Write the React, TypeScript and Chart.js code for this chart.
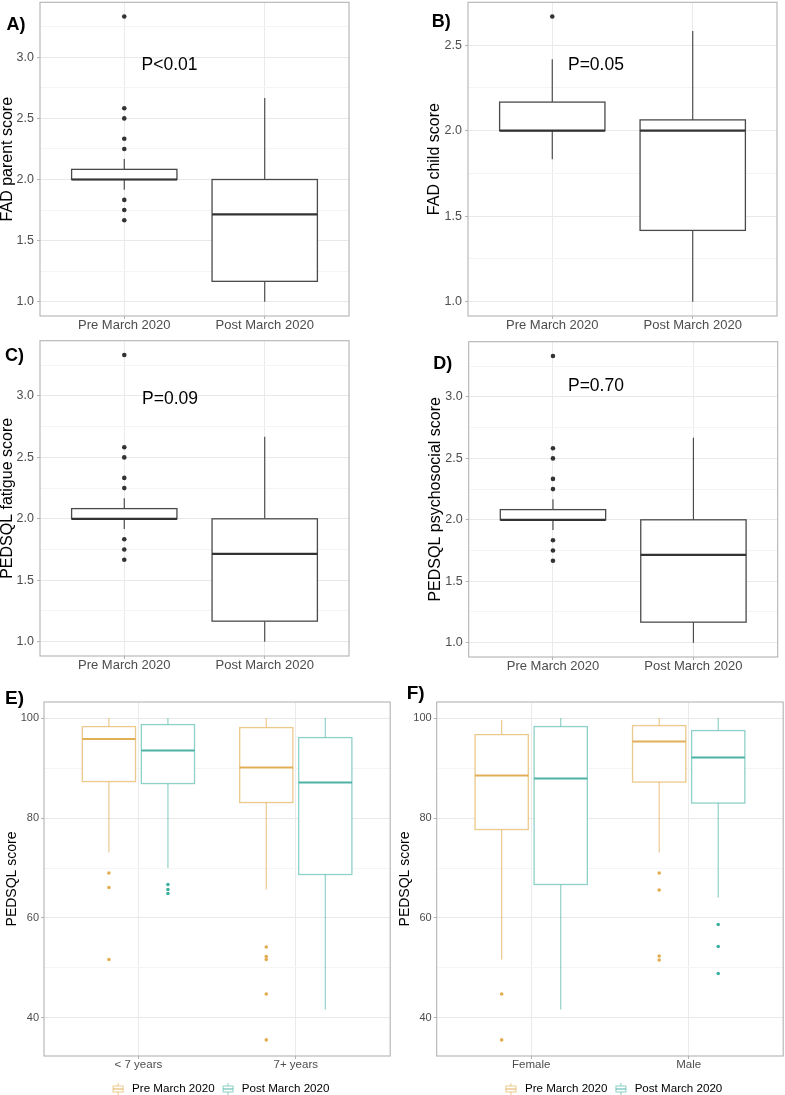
import React, { useEffect, useRef } from "react";
import { Chart, registerables } from "chart.js";
Chart.register(...registerables);

const FONT = "'Liberation Sans', Arial, Helvetica, sans-serif";

// ---------------- data ----------------
const periodCategories = ["Pre March 2020", "Post March 2020"];
const ageCategories = ["< 7 years", "7+ years"];
const sexCategories = ["Female", "Male"];
const seriesNames = ["Pre March 2020", "Post March 2020"];

// box stats: [lower whisker, Q1, median, Q3, upper whisker]
const fadParentPre = [1.917, 2.0, 2.0, 2.083, 2.167];
const fadParentPreOutliers = [3.333, 2.583, 2.5, 2.333, 2.25, 1.833, 1.75, 1.667];
const fadParentPost = [1.0, 1.167, 1.714, 2.0, 2.667];
const fadParentPostOutliers: number[] = [];

const fadChildPre = [1.833, 2.0, 2.0, 2.167, 2.417];
const fadChildPreOutliers = [2.667];
const fadChildPost = [1.0, 1.417, 2.0, 2.063, 2.583];
const fadChildPostOutliers: number[] = [];

const fatiguePre = [1.917, 2.0, 2.0, 2.083, 2.167];
const fatiguePreOutliers = [3.333, 2.583, 2.5, 2.333, 2.25, 1.833, 1.75, 1.667];
const fatiguePost = [1.0, 1.167, 1.714, 2.0, 2.667];
const fatiguePostOutliers: number[] = [];

const psychosocialPre = [1.917, 2.0, 2.0, 2.083, 2.167];
const psychosocialPreOutliers = [3.333, 2.583, 2.5, 2.333, 2.25, 1.833, 1.75, 1.667];
const psychosocialPost = [1.0, 1.167, 1.714, 2.0, 2.667];
const psychosocialPostOutliers: number[] = [];

const agePreStats = [
  [73.1, 87.3, 95.8, 98.3, 100],
  [65.7, 83.1, 90.1, 98.1, 100],
];
const agePreOutliers = [
  [69.0, 66.1, 51.7],
  [54.2, 52.3, 51.7, 44.8, 35.6],
];
const agePostStats = [
  [70.0, 86.9, 93.5, 98.7, 100],
  [41.7, 68.7, 87.1, 96.1, 100],
];
const agePostOutliers = [[66.7, 65.7, 64.9], []];

const sexPreStats = [
  [51.7, 77.7, 88.5, 96.7, 99.6],
  [73.1, 87.2, 95.3, 98.5, 100],
];
const sexPreOutliers = [
  [44.8, 35.6],
  [69.0, 65.6, 52.4, 51.6],
];
const sexPostStats = [
  [41.7, 66.7, 87.9, 98.3, 100],
  [64.1, 83.0, 92.1, 97.5, 100],
];
const sexPostOutliers = [[], [58.7, 54.3, 48.9]];

const fadMajorTicks = [1.0, 1.5, 2.0, 2.5, 3.0];
const fadMinorTicks = [1.25, 1.75, 2.25, 2.75, 3.25];
const pedsqlMajorTicks = [40, 60, 80, 100];
const pedsqlMinorTicks = [50, 70, 90];

// ---------------- styles ----------------
const GREY_BOX = "#4a4a4a";
const GREY_MED = "#333333";
const ORANGE_LINE = "rgba(225,168,69,0.62)";
const ORANGE_MED = "rgba(222,166,70,0.9)";
const ORANGE_PT = "#E2AD4E";
const TEAL_LINE = "rgba(60,175,160,0.58)";
const TEAL_MED = "rgba(55,170,155,0.9)";
const TEAL_PT = "#3DB0A1";

type Group = {
  pos: number;
  stats: number[];
  outliers: number[];
  line: string;
  median: string;
  point: string;
};

type Spec = {
  left: number;
  top: number;
  width: number;
  height: number;
  pad: { left: number; right: number; top: number; bottom: number };
  yWidth: number;
  xHeight: number;
  yTitle: string;
  yTitleSize: number;
  yTickSize: number;
  xTickSize: number;
  yTickPad: number;
  majors: number[];
  minors: number[];
  decimals: number;
  categories: string[];
  groups: Group[];
  halfWidth: number;
  boxLw: number;
  medLw: number;
  pointR: number;
  letter: string;
  letterPos: [number, number];
  letterSize: number;
  pText?: { text: string; x: number; y: number };
  legend?: boolean;
};

function periodGroups(pre: number[], preOut: number[], post: number[], postOut: number[]): Group[] {
  return [
    { pos: 1, stats: pre, outliers: preOut, line: GREY_BOX, median: GREY_MED, point: "#333" },
    { pos: 2, stats: post, outliers: postOut, line: GREY_BOX, median: GREY_MED, point: "#333" },
  ];
}

function dodgedGroups(preStats: number[][], preOut: number[][], postStats: number[][], postOut: number[][]): Group[] {
  const out: Group[] = [];
  for (let i = 0; i < preStats.length; i++) {
    out.push({ pos: i + 1 - 0.1875, stats: preStats[i], outliers: preOut[i], line: ORANGE_LINE, median: ORANGE_MED, point: ORANGE_PT });
    out.push({ pos: i + 1 + 0.1875, stats: postStats[i], outliers: postOut[i], line: TEAL_LINE, median: TEAL_MED, point: TEAL_PT });
  }
  return out;
}

const baseTop = {
  yTitleSize: 16,
  yTickSize: 12.5,
  xTickSize: 13,
  yTickPad: 3,
  majors: fadMajorTicks,
  minors: fadMinorTicks,
  decimals: 1,
  categories: periodCategories,
  halfWidth: 0.375,
  boxLw: 1.3,
  medLw: 2.2,
  pointR: 2.3,
  letterSize: 18,
};

const specs: Spec[] = [
  {
    ...baseTop,
    left: 0, top: 0, width: 390, height: 335,
    pad: { left: 0, right: 41, top: 0.7, bottom: 0 },
    yWidth: 40, xHeight: 19,
    yTitle: "FAD parent score",
    groups: periodGroups(fadParentPre, fadParentPreOutliers, fadParentPost, fadParentPostOutliers),
    letter: "A)", letterPos: [6.5, 25.5],
    pText: { text: "P<0.01", x: 1.322, y: 2.935 },
  },
  {
    ...baseTop,
    left: 390, top: 0, width: 395, height: 335,
    pad: { left: 37, right: 8, top: 0.7, bottom: 0 },
    yWidth: 41, xHeight: 19,
    yTitle: "FAD child score",
    groups: periodGroups(fadChildPre, fadChildPreOutliers, fadChildPost, fadChildPostOutliers),
    letter: "B)", letterPos: [41.7, 22],
    pText: { text: "P=0.05", x: 1.311, y: 2.384 },
  },
  {
    ...baseTop,
    left: 0, top: 335, width: 390, height: 340,
    pad: { left: 0, right: 41, top: 5.7, bottom: 0 },
    yWidth: 40, xHeight: 19,
    yTitle: "PEDSQL fatigue score",
    groups: periodGroups(fatiguePre, fatiguePreOutliers, fatiguePost, fatiguePostOutliers),
    letter: "C)", letterPos: [5, 21.5],
    pText: { text: "P=0.09", x: 1.326, y: 2.976 },
  },
  {
    ...baseTop,
    left: 390, top: 335, width: 395, height: 340,
    pad: { left: 38, right: 7.3, top: 6.7, bottom: 0 },
    yWidth: 40.7, xHeight: 18,
    yTitle: "PEDSQL psychosocial score",
    groups: periodGroups(psychosocialPre, psychosocialPreOutliers, psychosocialPost, psychosocialPostOutliers),
    letter: "D)", letterPos: [43.3, 29],
    pText: { text: "P=0.70", x: 1.306, y: 3.084 },
  },
  {
    left: 0, top: 680, width: 392, height: 415,
    pad: { left: 5.5, right: 1, top: 22, bottom: 17 },
    yWidth: 38.5, xHeight: 22,
    yTitle: "PEDSQL score", yTitleSize: 14, yTickSize: 11, xTickSize: 11.5, yTickPad: 2,
    majors: pedsqlMajorTicks, minors: pedsqlMinorTicks, decimals: 0,
    categories: ageCategories,
    groups: dodgedGroups(agePreStats, agePreOutliers, agePostStats, agePostOutliers),
    halfWidth: 0.169, boxLw: 1.3, medLw: 2, pointR: 1.8,
    letter: "E)", letterPos: [5, 19], letterSize: 19,
    legend: true,
  },
  {
    left: 392, top: 680, width: 393, height: 415,
    pad: { left: 6, right: 1, top: 22, bottom: 17 },
    yWidth: 38.7, xHeight: 22,
    yTitle: "PEDSQL score", yTitleSize: 14, yTickSize: 11, xTickSize: 11.5, yTickPad: 2,
    majors: pedsqlMajorTicks, minors: pedsqlMinorTicks, decimals: 0,
    categories: sexCategories,
    groups: dodgedGroups(sexPreStats, sexPreOutliers, sexPostStats, sexPostOutliers),
    halfWidth: 0.169, boxLw: 1.3, medLw: 2, pointR: 1.8,
    letter: "F)", letterPos: [14.7, 14], letterSize: 19,
    legend: true,
  },
];

function near(a: number, b: number) {
  return Math.abs(a - b) < 1e-6;
}

function zeroPadding(axis: any) {
  axis.paddingTop = 0;
  axis.paddingBottom = 0;
  axis.paddingLeft = 0;
  axis.paddingRight = 0;
}

function makePlugin(spec: Spec) {
  return {
    id: "boxplots",
    beforeDatasetsDraw(chart: any) {
      const { x, y } = chart.scales;
      const ctx: CanvasRenderingContext2D = chart.ctx;
      ctx.save();
      for (const g of spec.groups) {
        const [lo, q1, med, q3, hi] = g.stats;
        const cx = x.getPixelForValue(g.pos);
        const xl = x.getPixelForValue(g.pos - spec.halfWidth);
        const xr = x.getPixelForValue(g.pos + spec.halfWidth);
        const yt = y.getPixelForValue(q3);
        const yb = y.getPixelForValue(q1);
        const ym = y.getPixelForValue(med);
        ctx.strokeStyle = g.line;
        ctx.lineWidth = spec.boxLw * 0.9;
        ctx.beginPath();
        ctx.moveTo(cx, y.getPixelForValue(hi));
        ctx.lineTo(cx, yt);
        ctx.moveTo(cx, yb);
        ctx.lineTo(cx, y.getPixelForValue(lo));
        ctx.stroke();
        ctx.fillStyle = "#ffffff";
        ctx.fillRect(xl, yt, xr - xl, yb - yt);
        ctx.lineWidth = spec.boxLw;
        ctx.strokeRect(xl, yt, xr - xl, yb - yt);
        ctx.strokeStyle = g.median;
        ctx.lineWidth = spec.medLw;
        ctx.beginPath();
        ctx.moveTo(xl, ym);
        ctx.lineTo(xr, ym);
        ctx.stroke();
      }
      ctx.restore();
    },
    afterDraw(chart: any) {
      const ctx: CanvasRenderingContext2D = chart.ctx;
      const area = chart.chartArea;
      const { x, y } = chart.scales;
      ctx.save();
      // panel border
      ctx.strokeStyle = "#b3b3b3";
      ctx.lineWidth = 1.1;
      ctx.strokeRect(area.left, area.top, area.right - area.left, area.bottom - area.top);
      // panel letter
      ctx.fillStyle = "#000";
      ctx.font = `bold ${spec.letterSize}px ${FONT}`;
      ctx.textAlign = "left";
      ctx.textBaseline = "middle";
      ctx.fillText(spec.letter, spec.letterPos[0], spec.letterPos[1]);
      // p value
      if (spec.pText) {
        ctx.font = `17.5px ${FONT}`;
        ctx.textAlign = "center";
        ctx.fillText(spec.pText.text, x.getPixelForValue(spec.pText.x), y.getPixelForValue(spec.pText.y));
      }
      // legend
      if (spec.legend) {
        const cx = (area.left + area.right) / 2;
        const ly = 1089 - spec.top;
        ctx.font = `11.6px ${FONT}`;
        ctx.textAlign = "left";
        ctx.textBaseline = "middle";
        const drawIcon = (icx: number, line: string, med: string) => {
          ctx.strokeStyle = line;
          ctx.lineWidth = 1;
          ctx.beginPath();
          ctx.moveTo(icx, ly - 6);
          ctx.lineTo(icx, ly - 3);
          ctx.moveTo(icx, ly + 3);
          ctx.lineTo(icx, ly + 6);
          ctx.stroke();
          ctx.strokeRect(icx - 5, ly - 3, 10, 6);
          ctx.strokeStyle = med;
          ctx.beginPath();
          ctx.moveTo(icx - 5, ly);
          ctx.lineTo(icx + 5, ly);
          ctx.stroke();
        };
        const icon1 = cx - 99;
        drawIcon(icon1, ORANGE_LINE, ORANGE_MED);
        const t1 = icon1 + 14;
        ctx.fillStyle = "#000";
        ctx.fillText(seriesNames[0], t1, ly);
        const w1 = ctx.measureText(seriesNames[0]).width;
        const icon2 = t1 + w1 + 13.5;
        drawIcon(icon2, TEAL_LINE, TEAL_MED);
        ctx.fillStyle = "#000";
        ctx.fillText(seriesNames[1], icon2 + 13.7, ly);
      }
      ctx.restore();
    },
  };
}

function Panel({ spec }: { spec: Spec }) {
  const ref = useRef<HTMLCanvasElement | null>(null);
  useEffect(() => {
    if (!ref.current) return;
    const values: number[] = [];
    spec.groups.forEach((g) => {
      values.push(...g.stats, ...g.outliers);
    });
    const vmin = Math.min(...values);
    const vmax = Math.max(...values);
    const expand = (vmax - vmin) * 0.05;
    const ymin = vmin - expand;
    const ymax = vmax + expand;
    const allTicks = [...spec.majors, ...spec.minors]
      .filter((v) => v >= ymin - 1e-9 && v <= ymax + 1e-9)
      .sort((a, b) => a - b);
    const isMajor = (v: number) => spec.majors.some((m) => near(m, v));

    const chart = new Chart(ref.current, {
      type: "scatter",
      data: {
        datasets: spec.groups.map((g) => ({
          data: g.outliers.map((v) => ({ x: g.pos, y: v })),
          pointRadius: spec.pointR,
          pointBackgroundColor: g.point,
          pointBorderWidth: 0,
          pointHoverRadius: spec.pointR,
        })),
      },
      options: {
        animation: false,
        responsive: false,
        maintainAspectRatio: false,
        devicePixelRatio: 1,
        events: [],
        layout: { padding: spec.pad },
        plugins: { legend: { display: false }, tooltip: { enabled: false } },
        scales: {
          x: {
            type: "linear",
            min: 0.4,
            max: 2.6,
            afterBuildTicks: (axis: any) => {
              axis.ticks = spec.categories.map((_, i) => ({ value: i + 1 }));
            },
            afterFit: (axis: any) => {
              axis.height = spec.xHeight;
              zeroPadding(axis);
            },
            ticks: {
              callback: (v: any) => spec.categories[Math.round(Number(v)) - 1] ?? "",
              color: "#4d4d4d",
              font: { family: FONT, size: spec.xTickSize, lineHeight: 1 },
              padding: 0,
              maxRotation: 0,
              autoSkip: false,
            },
            grid: {
              color: "#ebebeb",
              lineWidth: 1,
              tickLength: 3,
              tickColor: "#b3b3b3",
              drawTicks: true,
            },
            border: { display: false },
          },
          y: {
            type: "linear",
            min: ymin,
            max: ymax,
            afterBuildTicks: (axis: any) => {
              axis.ticks = allTicks.map((v) => ({ value: v }));
            },
            afterFit: (axis: any) => {
              axis.width = spec.yWidth;
              zeroPadding(axis);
            },
            ticks: {
              callback: (v: any) => (isMajor(Number(v)) ? Number(v).toFixed(spec.decimals) : ""),
              color: "#4d4d4d",
              font: { family: FONT, size: spec.yTickSize },
              padding: spec.yTickPad,
              autoSkip: false,
            },
            grid: {
              color: (c: any) => (c.tick && isMajor(c.tick.value) ? "#e9e9e9" : "#f4f4f4"),
              lineWidth: 1,
              tickLength: 3,
              tickColor: (c: any) => (c.tick && isMajor(c.tick.value) ? "#b3b3b3" : "rgba(0,0,0,0)"),
              drawTicks: true,
            },
            border: { display: false },
            title: {
              display: true,
              text: spec.yTitle,
              color: "#000",
              font: { family: FONT, size: spec.yTitleSize, lineHeight: 1 },
              padding: 0,
            },
          },
        },
      } as any,
      plugins: [makePlugin(spec)],
    });
    return () => chart.destroy();
  }, [spec]);

  return (
    <canvas
      ref={ref}
      width={spec.width}
      height={spec.height}
      style={{
        position: "absolute",
        left: spec.left,
        top: spec.top,
        width: spec.width,
        height: spec.height,
      }}
    />
  );
}

export default function App() {
  return (
    <div
      style={{
        position: "absolute",
        left: 0,
        top: 0,
        width: 785,
        height: 1095,
        background: "#ffffff",
        overflow: "hidden",
      }}
    >
      {specs.map((s, i) => (
        <Panel key={i} spec={s} />
      ))}
    </div>
  );
}
